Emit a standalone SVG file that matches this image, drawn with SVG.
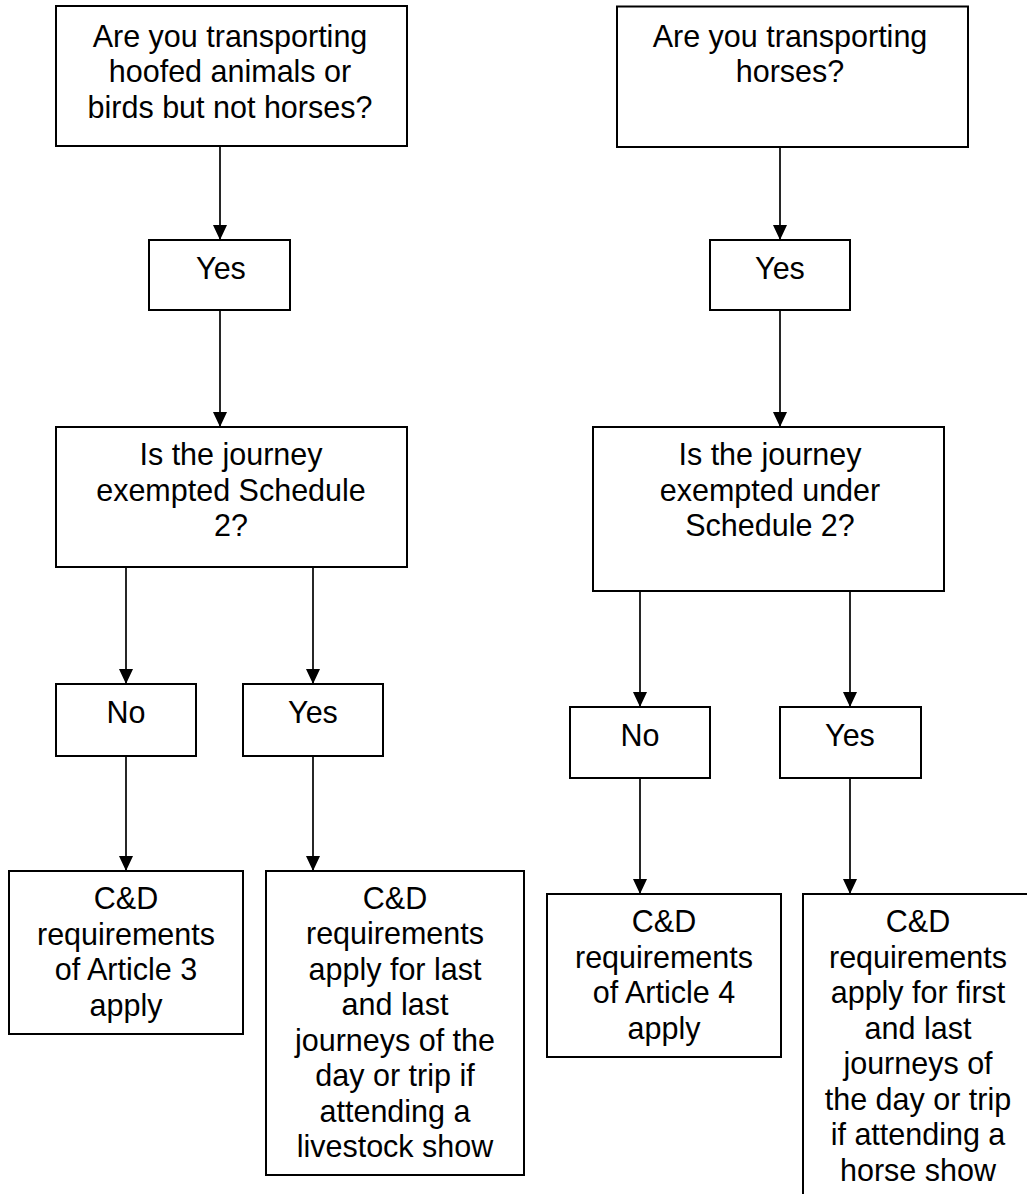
<svg xmlns="http://www.w3.org/2000/svg" width="1027" height="1194" viewBox="0 0 1027 1194">
<defs>
<style>
.box{fill:#fff;stroke:#000;stroke-width:2}
.t{font-family:"Liberation Sans",Arial,sans-serif;font-size:30.5px;fill:#000;text-anchor:middle}
.c{stroke:#000;stroke-width:1.7;fill:none;marker-end:url(#ah)}
</style>
<marker id="ah" viewBox="0 0 15 14" refX="15" refY="7" markerWidth="15" markerHeight="14" markerUnits="userSpaceOnUse" orient="auto">
<path d="M0,0 L15,7 L0,14 z" fill="#000"/>
</marker>
</defs>
<rect width="1027" height="1194" fill="#fff"/>
<g id="connectors">
<line class="c" x1="220" y1="146" x2="220" y2="240"/>
<line class="c" x1="780" y1="147" x2="780" y2="240"/>
<line class="c" x1="220" y1="310" x2="220" y2="427"/>
<line class="c" x1="780" y1="310" x2="780" y2="427"/>
<line class="c" x1="126" y1="567" x2="126" y2="684"/>
<line class="c" x1="313" y1="567" x2="313" y2="684"/>
<line class="c" x1="640" y1="591" x2="640" y2="707"/>
<line class="c" x1="850" y1="591" x2="850" y2="707"/>
<line class="c" x1="126" y1="756" x2="126" y2="871"/>
<line class="c" x1="313" y1="756" x2="313" y2="871"/>
<line class="c" x1="640" y1="778" x2="640" y2="894"/>
<line class="c" x1="850" y1="778" x2="850" y2="894"/>
</g>
<g id="q1">
<rect class="box" x="56" y="6" width="351" height="140"/>
<text class="t" x="230" y="46.5">Are you transporting</text>
<text class="t" x="230" y="82">hoofed animals or</text>
<text class="t" x="230" y="117.5">birds but not horses?</text>
</g>
<g id="q2">
<rect class="box" x="617" y="6.5" width="351" height="140.5"/>
<text class="t" x="790" y="46.5">Are you transporting</text>
<text class="t" x="790" y="82">horses?</text>
</g>
<g id="yes1">
<rect class="box" x="149" y="240" width="141" height="70"/>
<text class="t" x="221" y="279">Yes</text>
</g>
<g id="yes2">
<rect class="box" x="710" y="240" width="140" height="70"/>
<text class="t" x="780" y="279">Yes</text>
</g>
<g id="q3">
<rect class="box" x="56" y="427" width="351" height="140"/>
<text class="t" x="231" y="465">Is the journey</text>
<text class="t" x="231" y="500.5">exempted Schedule</text>
<text class="t" x="231" y="536">2?</text>
</g>
<g id="q4">
<rect class="box" x="593" y="427" width="351" height="164"/>
<text class="t" x="770" y="465">Is the journey</text>
<text class="t" x="770" y="500.5">exempted under</text>
<text class="t" x="770" y="536">Schedule 2?</text>
</g>
<g id="no1">
<rect class="box" x="56" y="684" width="140" height="72"/>
<text class="t" x="126" y="723">No</text>
</g>
<g id="yes3">
<rect class="box" x="243" y="684" width="140" height="72"/>
<text class="t" x="313" y="723">Yes</text>
</g>
<g id="no2">
<rect class="box" x="570" y="707" width="140" height="71"/>
<text class="t" x="640" y="746">No</text>
</g>
<g id="yes4">
<rect class="box" x="780" y="707" width="141" height="71"/>
<text class="t" x="850" y="746">Yes</text>
</g>
<g id="art3">
<rect class="box" x="9" y="871" width="234" height="163"/>
<text class="t" x="126" y="909">C&amp;D</text>
<text class="t" x="126" y="944.5">requirements</text>
<text class="t" x="126" y="980">of Article 3</text>
<text class="t" x="126" y="1015.5">apply</text>
</g>
<g id="livestock">
<rect class="box" x="266" y="871" width="258" height="304"/>
<text class="t" x="395" y="908.5">C&amp;D</text>
<text class="t" x="395" y="944">requirements</text>
<text class="t" x="395" y="979.5">apply for last</text>
<text class="t" x="395" y="1015">and last</text>
<text class="t" x="395" y="1050.5">journeys of the</text>
<text class="t" x="395" y="1086">day or trip if</text>
<text class="t" x="395" y="1121.5">attending a</text>
<text class="t" x="395" y="1157">livestock show</text>
</g>
<g id="art4">
<rect class="box" x="547" y="894" width="234" height="163"/>
<text class="t" x="664" y="932">C&amp;D</text>
<text class="t" x="664" y="967.5">requirements</text>
<text class="t" x="664" y="1003">of Article 4</text>
<text class="t" x="664" y="1038.5">apply</text>
</g>
<g id="horse">
<rect class="box" x="803" y="894" width="234" height="320"/>
<text class="t" x="918" y="932">C&amp;D</text>
<text class="t" x="918" y="967.5">requirements</text>
<text class="t" x="918" y="1003">apply for first</text>
<text class="t" x="918" y="1038.5">and last</text>
<text class="t" x="918" y="1074">journeys of</text>
<text class="t" x="918" y="1109.5">the day or trip</text>
<text class="t" x="918" y="1145">if attending a</text>
<text class="t" x="918" y="1180.5">horse show</text>
</g>
</svg>
